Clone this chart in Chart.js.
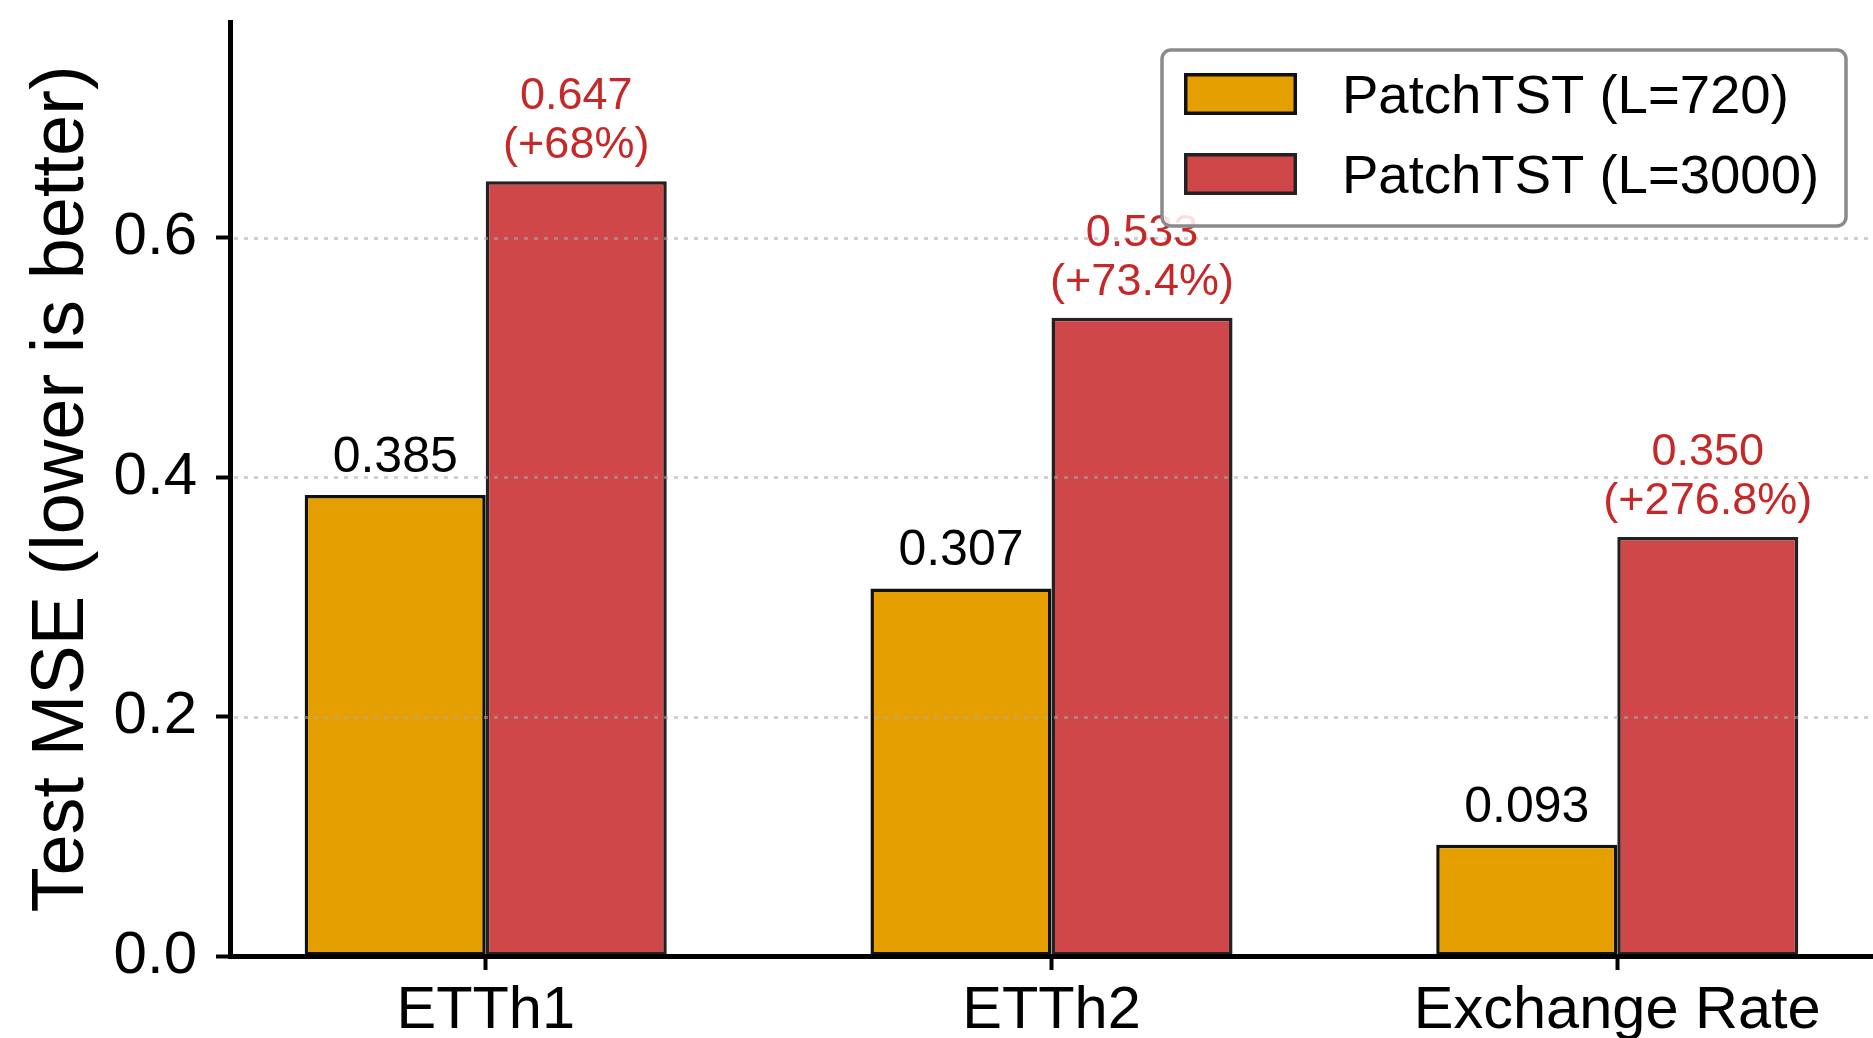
<!DOCTYPE html>
<html>
<head>
<meta charset="utf-8">
<script src="https://cdn.jsdelivr.net/npm/chart.js@4.4.0/dist/chart.umd.min.js"></script>
<style>
html,body{margin:0;padding:0;background:#fff;overflow:hidden}
#wrap{position:relative;width:1873px;height:1038px}
</style>
</head>
<body>
<div id="wrap"><canvas id="c" width="1873" height="1038"></canvas></div>
<script>
// ---- data ----
const categories = ['ETTh1', 'ETTh2', 'Exchange Rate'];
const mse720 = [0.385, 0.307, 0.093];
const mse3000 = [0.647, 0.533, 0.350];
const pctLabels = ['+68%', '+73.4%', '+276.8%'];
const seriesNames = ['PatchTST (L=720)', 'PatchTST (L=3000)'];
const yTicks = [0.0, 0.2, 0.4, 0.6];
const yMax = 0.78;
const xMin = -0.452, xMax = 2.452;

const FONT = '"Liberation Sans", Arial, Helvetica, sans-serif';
const COL720 = '#E69F00';
const COL3000 = '#CF4749';
const LABEL_RED = '#C62828';

const overlayPlugin = {
  id: 'overlay',
  afterDatasetsDraw(chart) {
    const ctx = chart.ctx;
    const ca = chart.chartArea;
    const ys = chart.scales.y;
    // dotted grid drawn above bars
    ctx.save();
    ctx.setLineDash([4, 6]);
    ctx.lineWidth = 3;
    ctx.strokeStyle = 'rgba(170,170,170,0.55)';
    yTicks.filter(v => v > 0).forEach(v => {
      const y = Math.round(ys.getPixelForValue(v)) + 0.5;
      ctx.beginPath();
      ctx.moveTo(ca.left + 4, y);
      ctx.lineTo(ca.right, y);
      ctx.stroke();
    });
    ctx.restore();

    // value labels
    ctx.save();
    ctx.textAlign = 'center';
    ctx.textBaseline = 'alphabetic';
    const m0 = chart.getDatasetMeta(0).data;
    const m1 = chart.getDatasetMeta(1).data;
    const gap = 23, lineH = 49;
    ctx.font = '50px ' + FONT;
    m0.forEach((bar, i) => {
      ctx.fillStyle = '#000';
      ctx.fillText(mse720[i].toFixed(3), bar.x, bar.y - gap);
    });
    ctx.font = '45px ' + FONT;
    m1.forEach((bar, i) => {
      ctx.fillStyle = LABEL_RED;
      ctx.fillText('(' + pctLabels[i] + ')', bar.x, bar.y - gap);
      ctx.fillText(mse3000[i].toFixed(3), bar.x, bar.y - gap - lineH);
    });
    ctx.restore();
  },
  afterDraw(chart) {
    const ctx = chart.ctx;
    const ca = chart.chartArea;
    // legend box
    const w = 684, h = 176;
    const x0 = ca.right - 27 - w, y0 = ca.top + 28;
    const r = 9;
    ctx.save();
    ctx.beginPath();
    ctx.moveTo(x0 + r, y0);
    ctx.lineTo(x0 + w - r, y0);
    ctx.arcTo(x0 + w, y0, x0 + w, y0 + r, r);
    ctx.lineTo(x0 + w, y0 + h - r);
    ctx.arcTo(x0 + w, y0 + h, x0 + w - r, y0 + h, r);
    ctx.lineTo(x0 + r, y0 + h);
    ctx.arcTo(x0, y0 + h, x0, y0 + h - r, r);
    ctx.lineTo(x0, y0 + r);
    ctx.arcTo(x0, y0, x0 + r, y0, r);
    ctx.closePath();
    ctx.fillStyle = 'rgba(255,255,255,0.86)';
    ctx.fill();
    ctx.lineWidth = 3.5;
    ctx.strokeStyle = '#8a8a8a';
    ctx.stroke();

    ctx.font = '54.5px ' + FONT;
    ctx.textAlign = 'left';
    ctx.textBaseline = 'alphabetic';
    chart.data.datasets.forEach((ds, i) => {
      const sy = y0 + 23 + i * 80;
      ctx.fillStyle = ds.backgroundColor;
      ctx.fillRect(x0 + 22, sy, 113, 42);
      ctx.lineWidth = 3.5;
      ctx.strokeStyle = ds.borderColor;
      ctx.strokeRect(x0 + 23.75, sy + 1.75, 109.5, 38.5);
      ctx.fillStyle = '#000';
      ctx.fillText(ds.label, x0 + 180, sy + 40);
    });
    ctx.restore();
  }
};

const datasets = [
  {
    label: seriesNames[0],
    data: categories.map((c, i) => ({x: i, y: mse720[i]})),
    backgroundColor: COL720,
    borderColor: '#111111',
    borderWidth: 3.5,
    borderSkipped: false,
    categoryPercentage: 0.64,
    barPercentage: 1.0
  },
  {
    label: seriesNames[1],
    data: categories.map((c, i) => ({x: i, y: mse3000[i]})),
    backgroundColor: COL3000,
    borderColor: '#222222',
    borderWidth: 3.5,
    borderSkipped: false,
    categoryPercentage: 0.64,
    barPercentage: 1.0
  }
];

new Chart(document.getElementById('c'), {
  type: 'bar',
  data: {datasets},
  plugins: [overlayPlugin],
  options: {
    responsive: false,
    animation: false,
    devicePixelRatio: 1,
    layout: {padding: {top: 22, right: 0, left: 0, bottom: 0}},
    plugins: {legend: {display: false}, tooltip: {enabled: false}},
    scales: {
      x: {
        type: 'linear',
        min: xMin,
        max: xMax,
        offset: false,
        afterBuildTicks: s => { s.ticks = categories.map((_, i) => ({value: i})); },
        afterFit: s => { s.height = 82; s.paddingLeft = 0; s.paddingRight = 0; },
        grid: {display: true, offset: false, drawOnChartArea: false, drawTicks: true,
               tickLength: 14, tickWidth: 4, tickColor: '#000'},
        border: {display: true, color: '#000', width: 5, z: 1},
        ticks: {
          callback: v => categories[Math.round(v)],
          color: '#000',
          font: {family: FONT, size: 59.5},
          padding: 6,
          maxRotation: 0,
          autoSkip: false
        }
      },
      y: {
        min: 0,
        max: yMax,
        afterBuildTicks: s => { s.ticks = yTicks.map(v => ({value: v})); },
        afterFit: s => { s.width = 230; s.paddingTop = 0; s.paddingBottom = 0; },
        grid: {display: true, drawOnChartArea: false, drawTicks: true,
               tickLength: 14, tickWidth: 4, tickColor: '#000'},
        border: {display: true, color: '#000', width: 5, z: 1},
        ticks: {
          callback: v => Number(v).toFixed(1),
          color: '#000',
          font: {family: FONT, size: 60},
          padding: 19
        },
        title: {
          display: true,
          text: 'Test MSE (lower is better)',
          color: '#000',
          font: {family: FONT, size: 74, lineHeight: 1},
          padding: {top: 26, bottom: 0}
        }
      }
    }
  }
});
</script>
</body>
</html>
